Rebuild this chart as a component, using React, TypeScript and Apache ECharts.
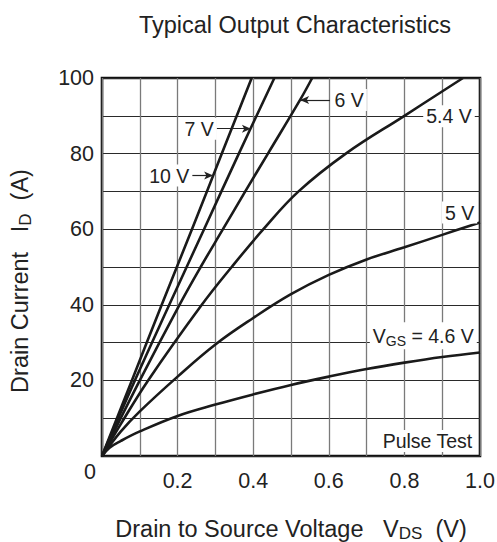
import React, { useEffect, useRef } from "react";
import * as echarts from "echarts";

// V_DS (V), I_D (A)
const curve10V: [number, number][] = [[0, 0], [0.079, 20], [0.158, 40], [0.238, 60], [0.317, 80], [0.396, 100]];
const curve7V: [number, number][] = [[0, 0], [0.087, 20], [0.178, 40], [0.27, 60], [0.362, 80], [0.456, 100]];
const curve6V: [number, number][] = [[0, 0], [0.1, 20], [0.205, 40], [0.261, 50], [0.32, 60], [0.379, 70], [0.439, 80], [0.524, 94.2], [0.556, 100]];
const curve54V: [number, number][] = [[0, 0], [0.05, 8.5], [0.122, 20], [0.264, 40], [0.343, 50], [0.427, 60], [0.52, 70], [0.645, 80], [0.8, 90], [0.955, 100]];
const curve5V: [number, number][] = [[0, 0], [0.05, 6.5], [0.1, 11.8], [0.2, 21], [0.3, 29.5], [0.4, 36.5], [0.5, 42.8], [0.6, 47.9], [0.7, 52], [0.8, 55.2], [0.9, 58.5], [1.0, 61.8]];
const curve46V: [number, number][] = [[0, 0], [0.02, 2.2], [0.05, 4], [0.1, 6.5], [0.2, 10.6], [0.3, 13.6], [0.4, 16.3], [0.5, 18.8], [0.6, 21], [0.7, 23], [0.8, 24.7], [0.9, 26.2], [1.0, 27.4]];

const seriesNames = ["10 V", "7 V", "6 V", "5.4 V", "5 V", "4.6 V"];
const seriesData = [curve10V, curve7V, curve6V, curve54V, curve5V, curve46V];

const xTickLabels = ["0.2", "0.4", "0.6", "0.8", "1.0"];
const yTickLabels = ["20", "40", "60", "80", "100"];

const TEXT = "#222";
const FONT = "Liberation Sans, Arial, Helvetica, sans-serif";

// annotation text (data coordinates)
const notes: { text: string; at: [number, number] }[] = [
  { text: "10 V", at: [0.178, 74.2] },
  { text: "7 V", at: [0.257, 86.6] },
  { text: "6 V", at: [0.654, 94.2] },
  { text: "5.4 V", at: [0.918, 89.9] },
  { text: "5 V", at: [0.946, 64.4] },
  { text: "{a|V}{b|GS}{a| = 4.6 V}", at: [0.85, 31.8] },
  { text: "Pulse Test", at: [0.861, 4.0] },
];
const arrows: [[number, number], [number, number]][] = [
  [[0.234, 74.2], [0.294, 74.2]],
  [[0.303, 86.6], [0.394, 86.6]],
  [[0.603, 94.2], [0.524, 94.2]],
];

export default function App() {
  const ref = useRef<HTMLDivElement>(null);
  useEffect(() => {
    document.body.style.margin = "0";
    const chart = echarts.init(ref.current!, undefined, { renderer: "svg" });
    const series: any[] = seriesNames.map((name, i) => ({
      name,
      type: "line",
      data: seriesData[i],
      smooth: 0.4,
      showSymbol: false,
      symbol: "none",
      lineStyle: { color: "#1a1a1a", width: 2.6 },
      z: 3,
    }));
    series.push({
      type: "line",
      data: [],
      markLine: {
        silent: true,
        symbol: ["none", "arrow"],
        symbolSize: [6, 9],
        label: { show: false },
        lineStyle: { color: TEXT, width: 1.2, type: "solid" },
        data: arrows.map(([a, b]) => [{ coord: a }, { coord: b }]),
      },
      markPoint: {
        silent: true,
        symbol: "circle",
        symbolSize: 1,
        itemStyle: { color: "rgba(0,0,0,0)" },
        label: {
          show: true,
          position: "inside",
          fontSize: 19.5,
          fontFamily: FONT,
          color: TEXT,
          backgroundColor: "#fff",
          padding: [1, 3],
          rich: {
            a: { fontSize: 19.5, fontFamily: FONT, color: TEXT },
            b: { fontSize: 14, fontFamily: FONT, color: TEXT, padding: [11, 0, 0, 0] },
          },
        },
        data: notes.map((n) => ({ coord: n.at, value: 0, label: { formatter: n.text } })),
      },
      z: 5,
    });

    chart.setOption({
      animation: false,
      title: {
        text: "Typical Output Characteristics",
        left: 290,
        top: 8,
        textAlign: "center",
        textStyle: { fontSize: 23.5, fontWeight: "normal", color: TEXT, fontFamily: FONT },
      },
      grid: {
        left: 102, right: 17, top: 78, bottom: 86,
        containLabel: false, outerBoundsMode: "none",
        show: true, borderColor: "#111", borderWidth: 2.6, backgroundColor: "#fff",
      },
      xAxis: {
        type: "value",
        min: 0,
        max: 1,
        interval: 0.1,
        name: "{a|Drain to Source Voltage   V}{b|DS}{a|  (V)}",
        nameLocation: "middle",
        nameGap: 59,
        nameTextStyle: {
          rich: {
            a: { fontSize: 23.5, fontFamily: FONT, color: TEXT },
            b: { fontSize: 17, fontFamily: FONT, color: TEXT, padding: [10, 0, 0, 0] },
          },
        },
        axisLine: { show: false },
        axisTick: { show: false },
        axisLabel: {
          margin: 14,
          fontSize: 21.5,
          fontFamily: FONT,
          color: TEXT,
          formatter: (v: number) => {
            const s = v.toFixed(1);
            return xTickLabels.includes(s) ? s : "";
          },
        },
        splitLine: { show: true, lineStyle: { color: "#7a7a7a", width: 1.3 } },
      },
      yAxis: {
        type: "value",
        min: 0,
        max: 100,
        interval: 10,
        name: "{a|Drain Current   I}{b|D}{a|  (A)}",
        nameLocation: "middle",
        nameGap: 68,
        nameTextStyle: {
          padding: [0, 28, 0, 0],
          rich: {
            a: { fontSize: 23.5, fontFamily: FONT, color: TEXT },
            b: { fontSize: 17, fontFamily: FONT, color: TEXT, padding: [12, 0, 0, 0] },
          },
        },
        axisLine: { show: false },
        axisTick: { show: false },
        axisLabel: {
          margin: 8,
          fontSize: 21.5,
          fontFamily: FONT,
          color: TEXT,
          formatter: (v: number) => {
            const s = String(Math.round(v));
            return yTickLabels.includes(s) ? s : "";
          },
        },
        splitLine: { show: true, lineStyle: { color: "#2a2a2a", width: 1.1 } },
      },
      graphic: [
        { type: "text", x: 90, y: 472, style: { text: "0", align: "center", verticalAlign: "middle", fontSize: 21.5, fontFamily: FONT, fill: TEXT } },
      ],
      series,
    });
    return () => chart.dispose();
  }, []);
  return <div ref={ref} style={{ position: "fixed", left: 0, top: 0, width: 497, height: 542, background: "#fff" }} />;
}
